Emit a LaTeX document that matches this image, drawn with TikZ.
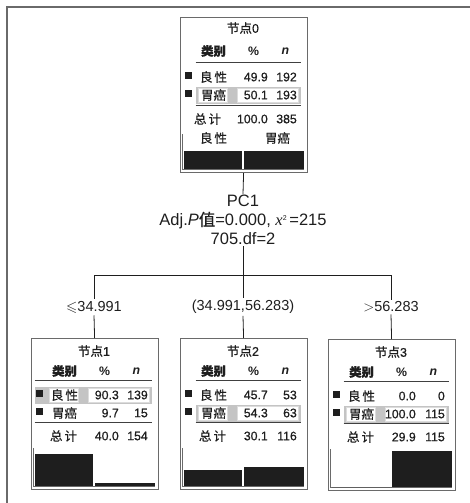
\documentclass[tikz,border=0pt]{standalone}
\usepackage{amssymb}
\usepackage{fontspec}
\setmainfont{Liberation Sans}
\newfontfamily\cjk{Noto Sans CJK SC}[FakeBold=0.5]
\newfontfamily\cjkb{Noto Sans CJK SC}[FakeBold=1.0]
\newfontfamily\numf{Liberation Sans}[FakeBold=0.6]
\newfontfamily\serifit{Liberation Serif}
\definecolor{ink}{HTML}{1E1E1E}
\definecolor{framec}{HTML}{6A6A6A}
\definecolor{bandc}{HTML}{C4C4C4}
\tikzset{
  box/.style={draw=framec, line width=1.2pt, fill=white, minimum width=127pt,
    minimum height=151pt, anchor=north west, inner sep=0pt},
  cj/.style={font=\cjk\fontsize{12.5}{14}\selectfont, text=ink, inner sep=0pt},
  num/.style={font=\numf\fontsize{12.3}{14}\selectfont, text=ink, inner sep=0pt, anchor=east},
  hd/.style={font=\fontsize{12.3}{14}\selectfont\bfseries, text=ink, inner sep=0pt},
  ttl/.style={font=\numf\fontsize{12.5}{14}\selectfont, text=ink, inner sep=0pt},
  rulec/.style={draw=ink!85, line width=0.9pt},
  chartline/.style={draw=framec, line width=0.9pt},
  split/.style={font=\fontsize{16.5}{19}\selectfont, text=ink, align=center, inner sep=1pt},
  lab/.style={font=\fontsize{14.5}{17}\selectfont, text=ink, inner sep=2pt},
  conn/.style={draw=ink, line width=0.8pt}
}
\newcommand\tbhl[2]{\fill[bandc] (#1,#2-8.5) rectangle (121,#2+8.5);
  \filldraw[fill=white,draw=bandc!60!white] (19,#2-7) rectangle (48,#2+7) (58,#2-7) rectangle (119,#2+7);}
\newcommand\tbsq[1]{\fill[ink] (5,#1-5) rectangle (12,#1+2);}
\newcommand\tbhead[2]{%
  \node[ttl] at (63.5,13) {{\cjkb 节点}#1};
  \node[hd] at (34,33) {\cjkb 类别};
  \node[hd] at (74,33) {\%};
  \node[hd] at (106,33) {\itshape n};
  \draw[rulec] (#2,42.5) -- (121,42.5);
  \draw[rulec] (#2,84) -- (121,84);}
\newcommand\tbrow[4]{\tbsq{#1}\node[cj] at (34,#1) {#2};
  \node[num] at (88.5,#1) {#3}; \node[num] at (117.5,#1) {#4};}
\newcommand\tbtot[4]{\node[cj] at (#1,98) {总\hspace{2pt}计};
  \node[num] at (88.5,98) {#2}; \node[num] at (117.5,98) {#3};}
\newcommand\tbbars[3]{\draw[chartline] (3,#1) -- (3,148) -- (124,148);
  \fill[ink] (4,148) rectangle (62.8,148-#2);
  \fill[ink] (64.6,148) rectangle (124,148-#3);}
\begin{document}
\begin{tikzpicture}[x=1pt,y=-1pt]
\useasboundingbox (0,0) rectangle (470,503);
\draw[framec, line width=2pt] (7,503) -- (7,7) -- (470,7);

% boxes
\node[box, minimum height=155pt] (b0) at (179.5,17) {};
\node[box] (b1) at (30.5,338) {};
\node[box] (b2) at (179.5,338) {};
\node[box] (b3) at (327.5,339) {};

% split text and labels
\node[split] (split) at (243,220) {PC1\\Adj.\textit{P}{\cjk 值}=0.000, {\serifit\itshape x}\raisebox{5pt}{\fontsize{7}{7}\selectfont 2}\,=215\\705.df=2};
\coordinate (hub) at (243,275);
\coordinate (h1) at (94,275);
\coordinate (h3) at (391,275);
\node[lab] (l1) at (94,307) {$\leqslant$34.991};
\node[lab] (l2) at (243,307) {(34.991,56.283)};
\node[lab] (l3) at (391,307) {$>$56.283};

\draw[conn] (b0.south) -- (split.north);
\draw[conn] (split.south) -- (hub);
\draw[conn] (h1) -- (h3);
\draw[conn] (h1) -- (l1.north);
\draw[conn] (hub) -- (l2.north);
\draw[conn] (h3) -- (l3.north);
\draw[conn] (l1.south) -- (b1.north);
\draw[conn] (l2.south) -- (b2.north);
\draw[conn] (l3.south) -- (b3.north);

% node 0
\begin{scope}[shift={(b0.north west)}, yshift=-1pt]
  \node[ttl] at (63.5,10) {{\cjkb 节点}0};
  \tbhl{16}{77}
  \node[hd] at (34,33) {\cjkb 类别};
  \node[hd] at (74,33) {\%};
  \node[hd] at (106,33) {\itshape n};
  \draw[rulec] (16,44) -- (121,44);
  \draw[rulec] (16,87) -- (121,87);
  \tbrow{59}{良\hspace{2pt}性}{49.9}{192}
  \tbrow{77}{胃癌}{50.1}{193}
  \node[cj] at (28,101) {总\hspace{2pt}计};
  \node[num] at (88.5,101) {100.0}; \node[num] at (117.5,101) {385};
  \node[cj] at (34,120) {良\hspace{2pt}性};
  \node[cj] at (98,120) {胃癌};
  \draw[chartline] (3,116) -- (3,151) -- (124,151);
  \fill[ink] (4,151) rectangle (62.8,133);
  \fill[ink] (64.6,151) rectangle (124,133);
\end{scope}

% node 1
\begin{scope}[shift={(b1.north west)}]
  \tbhl{4}{57}
  \tbhead{1}{4}
  \tbrow{57}{良\hspace{2pt}性}{90.3}{139}
  \tbrow{75}{胃癌}{9.7}{15}
  \tbtot{33}{40.0}{154}{}
  \tbbars{110}{32.5}{3.5}
\end{scope}

% node 2
\begin{scope}[shift={(b2.north west)}]
  \tbhl{16}{75}
  \tbhead{2}{16}
  \tbrow{57}{良\hspace{2pt}性}{45.7}{53}
  \tbrow{75}{胃癌}{54.3}{63}
  \tbtot{33}{30.1}{116}{}
  \tbbars{110}{16.5}{19.5}
\end{scope}

% node 3
\begin{scope}[shift={(b3.north west)}]
  \tbhl{16}{75}
  \tbhead{3}{16}
  \tbrow{57}{良\hspace{2pt}性}{0.0}{0}
  \tbrow{75}{胃癌}{100.0}{115}
  \tbtot{33}{29.9}{115}{}
  \tbbars{110}{0}{36}
\end{scope}
\end{tikzpicture}
\end{document}
